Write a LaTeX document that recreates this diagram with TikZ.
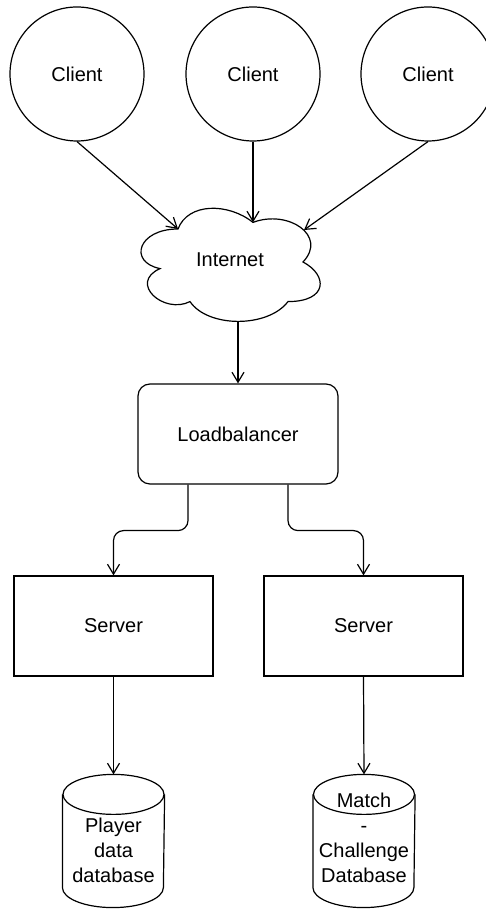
\documentclass[tikz,border=0pt]{standalone}
\usepackage{fontspec}
\setmainfont{Liberation Sans}
\usetikzlibrary{arrows.meta}
\begin{document}
\begin{tikzpicture}[x=1pt,y=1pt,line width=1.2pt,
  every node/.style={font=\fontsize{20}{25}\selectfont},
  client/.style={draw,circle,minimum size=134pt,inner sep=0pt},
  srvbox/.style={draw,rectangle,minimum width=199pt,minimum height=100pt},
  lbbox/.style={draw,rectangle,rounded corners=12pt,minimum width=200pt,minimum height=100pt},
  dbcell/.style={rectangle,minimum width=101pt,minimum height=132pt,inner sep=0pt},
  link/.style={-{Straight Barb[length=10pt,width=12pt]}}]
\useasboundingbox (0,0) rectangle (485,909);

\node[client] (c1) at (77,835) {Client};
\node[client] (c2) at (253,835) {Client};
\node[client] (c3) at (428,835) {Client};

\draw (178,680) .. controls (138,680) and (128,647) .. (160,640.4)
  .. controls (128,625.9) and (164,594.2) .. (190,607.4)
  .. controls (208,581) and (268,581) .. (288,607.4)
  .. controls (328,607.4) and (328,633.8) .. (303,647)
  .. controls (328,673.4) and (288,699.8) .. (253,686.6)
  .. controls (228,706.4) and (188,706.4) .. (178,680) -- cycle;
\node (inet) at (230,649) {Internet};
\coordinate (inL) at (178,680);
\coordinate (inM) at (253,686.6);
\coordinate (inR) at (304,679);
\coordinate (inS) at (238,587.6);

\node[lbbox] (lb) at (238,475) {Loadbalancer};
\node[srvbox] (srv1) at (113.5,283) {Server};
\node[srvbox] (srv2) at (363.5,283) {Server};

\node[dbcell] (db1) at (113.5,68) {};
\node[dbcell] (db2) at (364,68) {};
\draw[fill=white] ([yshift=-20pt]db1.north west) -- ([yshift=20pt]db1.south west)
  arc[start angle=180,end angle=360,x radius=50.5pt,y radius=20pt] -- ([yshift=-20pt]db1.north east);
\draw ([yshift=-20pt]db1.north) ellipse[x radius=50.5pt,y radius=20pt];
\draw[fill=white] ([yshift=-20pt]db2.north west) -- ([yshift=20pt]db2.south west)
  arc[start angle=180,end angle=360,x radius=50.5pt,y radius=20pt] -- ([yshift=-20pt]db2.north east);
\draw ([yshift=-20pt]db2.north) ellipse[x radius=50.5pt,y radius=20pt];
\node[align=center] (db1txt) at (113.5,59) {Player\\data\\database};
\node[align=center] (db2txt) at (364,71) {Match\\-\\Challenge\\Database};

\draw[link] (c1.south) -- (inL);
\draw[link] (c2.south) -- (inM);
\draw[link] (c3.south) -- (inR);
\draw[link] (inS) -- (lb.north);
\draw[link,rounded corners=10pt] ([xshift=-50pt]lb.south) -- ++(0,-46) -| (srv1.north);
\draw[link,rounded corners=10pt] ([xshift=50pt]lb.south) -- ++(0,-46) -| (srv2.north);
\draw[link] (srv1.south) -- (db1.north);
\draw[link] (srv2.south) -- (db2.north);
\end{tikzpicture}
\end{document}
